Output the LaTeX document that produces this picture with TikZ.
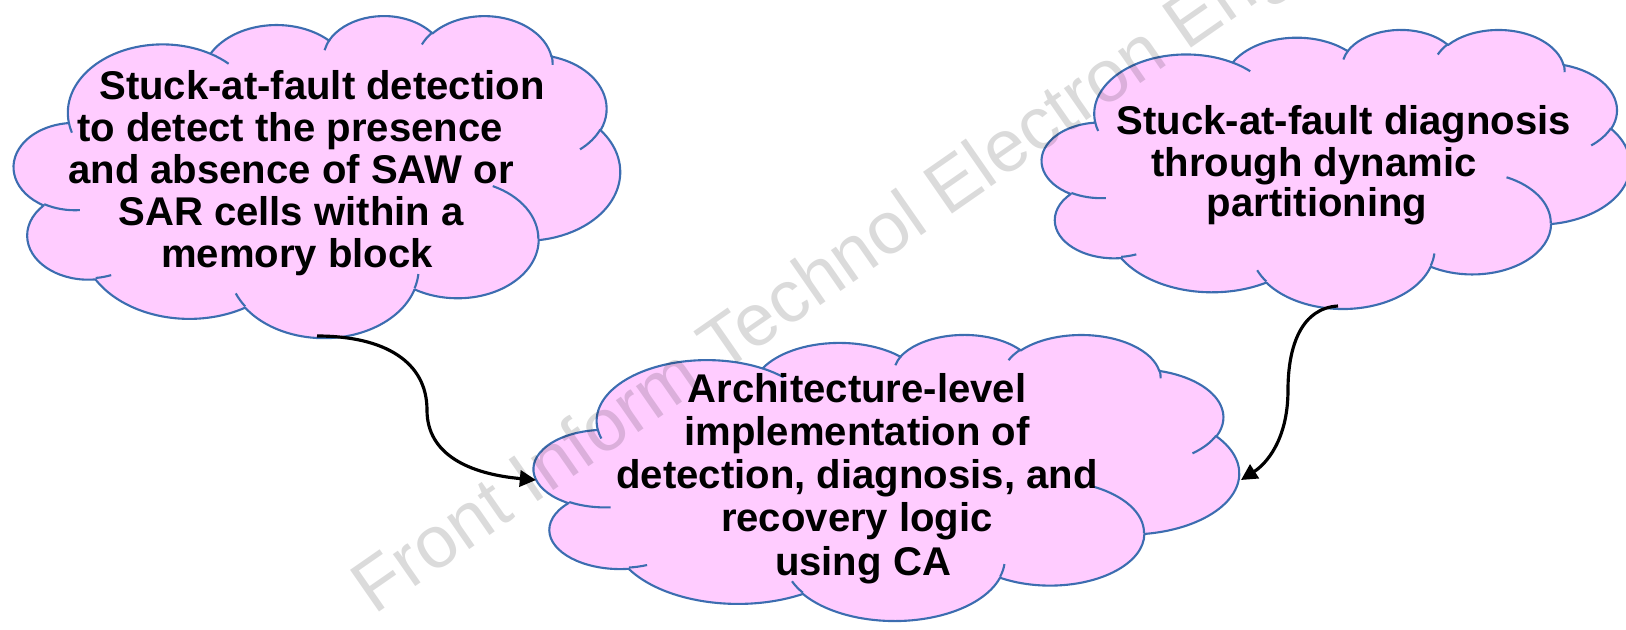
\documentclass[tikz,border=0pt]{standalone}
\usepackage{fontspec}
\setmainfont{Liberation Sans}
\newfontfamily\wmfont{Liberation Sans}
\usetikzlibrary{arrows.meta}
\definecolor{cloudfill}{HTML}{FFCCFF}
\definecolor{cloudedge}{HTML}{3C6DB0}
\tikzset{
  oarc/.style n args={4}{insert path={arc[x radius=#1, y radius=#2,
      start angle={atan2((#1)*sin(#3),(#2)*cos(#3))},
      delta angle={mod(atan2((#1)*sin((#3)+(#4)),(#2)*cos((#3)+(#4)))-atan2((#1)*sin(#3),(#2)*cos(#3))+720,360)}]}},
  cloudbody/.style={fill=cloudfill, draw=cloudedge, line width=0.6pt, line join=round},
  cloudinner/.style={draw=cloudedge, line width=0.6pt},
  lbl/.style={font=\fontsize{11.4pt}{12pt}\selectfont\bfseries, anchor=base, inner sep=0pt},
  conn/.style={draw=black, line width=0.9pt, -{Triangle[length=4.6pt,width=4.6pt]}},
  wm/.style={font=\wmfont\fontsize{21pt}{25pt}\selectfont, text=black, text opacity=0.14,
      anchor=base west, inner sep=0pt, rotate=34.8}
}
% PowerPoint-style cloud: #1,#2 top-left corner, #3 width, #4 height, #5 name
\newcommand\pptcloud[5]{%
  \begin{scope}[shift={(#1,#2)}, xscale=#3/43.2, yscale=#4/43.2]
    \filldraw[cloudbody] (3.900,14.370)
      [oarc={6.753}{9.190}{-190.4875}{123.7805}]
      [oarc={5.333}{7.267}{-144.1024}{89.9452}]
      [oarc={4.365}{5.945}{-145.8079}{99.7230}]
      [oarc={4.857}{6.595}{-130.9861}{117.2417}]
      [oarc={5.333}{7.273}{-78.7089}{109.0269}]
      [oarc={6.775}{9.220}{-46.2673}{130.2690}]
      [oarc={5.785}{7.867}{0.6250}{114.0333}]
      [oarc={6.752}{9.215}{22.4516}{115.1726}]
      [oarc={7.720}{10.543}{66.2426}{75.7110}]
      [oarc={4.360}{5.918}{-274.9421}{146.7356}]
      [oarc={4.345}{5.945}{-246.8285}{152.5189}]
      -- cycle;
    \draw[cloudinner]
      (4.693,26.177) [oarc={4.345}{5.945}{86.7420}{26.4295}]
      (6.928,34.899) [oarc={4.360}{5.918}{73.6105}{11.4475}]
      (16.478,39.090) [oarc={6.752}{9.215}{137.6242}{14.0811}]
      (28.827,34.751) [oarc={6.752}{9.215}{6.4533}{15.9984}]
      (34.129,22.954) [oarc={5.785}{7.867}{-70.2924}{70.9174}]
      (41.798,15.354) [oarc={5.333}{7.273}{30.3180}{27.7515}]
      (38.324,5.426) [oarc={4.857}{6.595}{-13.7443}{14.8589}]
      (29.078,3.952) [oarc={4.857}{6.595}{-149.1815}{18.1954}]
      (22.141,4.720) [oarc={4.365}{5.945}{-163.4943}{17.6864}]
      (14.000,5.192) [oarc={6.753}{9.190}{-66.7070}{12.3194}]
      (4.127,15.789) [oarc={6.753}{9.190}{157.6544}{11.8582}];
    \coordinate (#5) at (21.6,21.6);
  \end{scope}}
\begin{document}
\begin{tikzpicture}[x=0.01cm, y=-0.01cm]
  \path[use as bounding box] (0,0) rectangle (1626,630);
  \clip (0,0) rectangle (1626,630);

  % clouds
  \pptcloud{14}{15}{606}{322}{cloudA}
  \pptcloud{1042}{29}{588}{279}{cloudB}
  \pptcloud{534}{334}{705}{286}{cloudC}

  % texts
  \node[lbl] (tA1) at (322,99)  {Stuck-at-fault detection};
  \node[lbl] (tA2) at (290,141) {to detect the presence};
  \node[lbl] (tA3) at (291,183) {and absence of SAW or};
  \node[lbl] (tA4) at (291,225) {SAR cells within a};
  \node[lbl] (tA5) at (297,267) {memory block};

  \node[lbl] (tB1) at (1344,134) {Stuck-at-fault diagnosis};
  \node[lbl] (tB2) at (1314,176) {through dynamic};
  \node[lbl] (tB3) at (1317,216) {partitioning};

  \node[lbl] (tC1) at (857,402) {Architecture-level};
  \node[lbl] (tC2) at (857,445) {implementation of};
  \node[lbl] (tC3) at (857,488) {detection, diagnosis, and};
  \node[lbl] (tC4) at (857,531) {recovery logic};
  \node[lbl] (tC5) at (863,575) {using CA};

  % connector end points on the cloud outlines
  \coordinate (cloudA-bottom) at (317,336);
  \coordinate (bendA) at (427,410);
  \coordinate (cloudC-left) at (536,480);
  \coordinate (cloudB-bottom) at (1338,306);
  \coordinate (bendB) at (1288,390);
  \coordinate (cloudC-right) at (1241,480);

  \draw[conn] (cloudA-bottom) .. controls (385,336) and (427,362) .. (bendA)
              .. controls (427,455) and (470,474) .. (cloudC-left);
  \draw[conn] (cloudB-bottom) .. controls (1302,308) and (1288,345) .. (bendB)
              .. controls (1288,440) and (1266,464) .. (cloudC-right);

  % watermark
  \node[wm] (watermark) at (374,616) {Front Inform Technol Electron Eng};
\end{tikzpicture}
\end{document}
